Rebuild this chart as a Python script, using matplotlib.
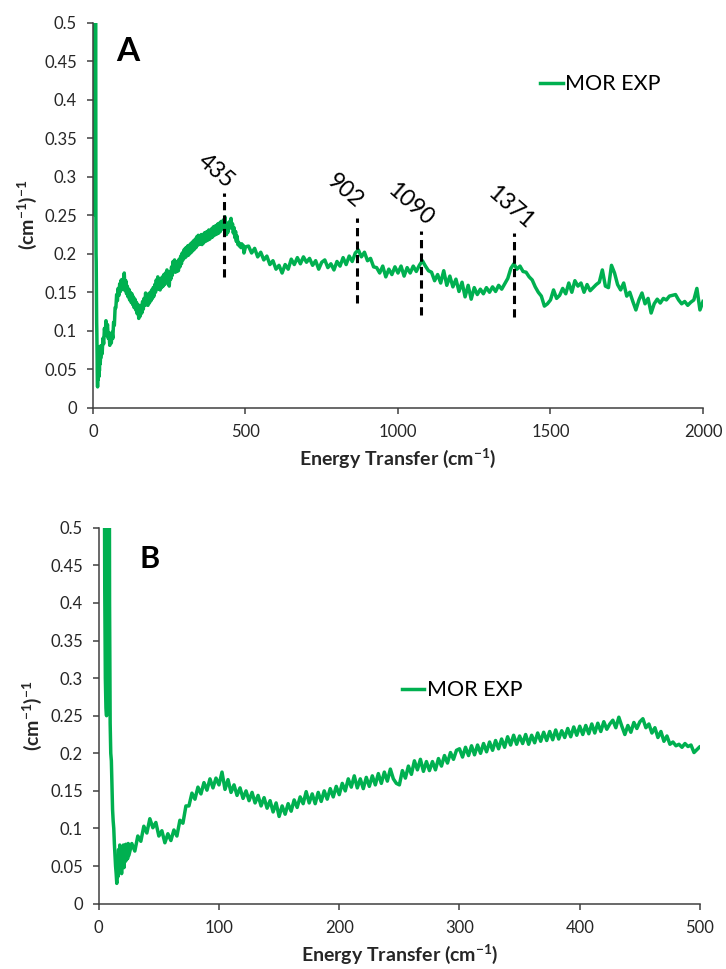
import numpy as np
import matplotlib
matplotlib.use("Agg")
import matplotlib.pyplot as plt

plt.rcParams['font.family'] = ['Lato', 'DejaVu Sans']
plt.rcParams['mathtext.fontset'] = 'custom'
plt.rcParams['mathtext.rm'] = 'Lato'
plt.rcParams['mathtext.bf'] = 'Lato:bold'
plt.rcParams['mathtext.default'] = 'regular'

# ---------------- data ----------------
series_name = "MOR EXP"

# elastic-line spike region (cm-1) and values
spike_energy = [3.0, 4.0, 4.5, 5.0, 5.5, 6.0, 6.5, 7.0, 7.5, 8.0, 8.5, 9.0, 9.5,
                10.0, 10.5, 11.0, 11.5, 12.0, 12.5, 13.0, 13.5, 14.0, 14.5, 15.0]
spike_values = [3.0, 1.5, 0.7, 0.42, 0.30, 0.26, 0.25, 0.28, 0.45, 0.75, 0.90, 0.40, 0.24,
                0.20, 0.19, 0.16, 0.125, 0.11, 0.10, 0.08, 0.065, 0.05, 0.04, 0.027]

# noisy band 15.5 - 24.5 cm-1 (0.5 step)
band_energy = np.arange(15.5, 24.51, 0.5)
band_values = [0.060, 0.036, 0.072, 0.043, 0.078, 0.048, 0.070, 0.040, 0.075, 0.052,
               0.078, 0.048, 0.072, 0.056, 0.079, 0.058, 0.076, 0.060, 0.080]

# 25 - 500 cm-1 (2.5 step)
mid_energy = np.arange(25.0, 500.01, 2.5)
mid_values = [
    0.064, 0.080, 0.070, 0.090, 0.083, 0.103, 0.094, 0.113, 0.101, 0.108,
    0.090, 0.097, 0.081, 0.093, 0.084, 0.098, 0.090, 0.111, 0.107, 0.130,
    0.130, 0.147, 0.139, 0.155, 0.146, 0.161, 0.151, 0.166, 0.154, 0.167,
    0.158, 0.175, 0.152, 0.165, 0.148, 0.158, 0.144, 0.154, 0.140, 0.150,
    0.137, 0.148, 0.134, 0.144, 0.130, 0.141, 0.127, 0.137, 0.122, 0.134,
    0.116, 0.130, 0.119, 0.133, 0.123, 0.138, 0.128, 0.142, 0.133, 0.149,
    0.134, 0.146, 0.133, 0.148, 0.136, 0.150, 0.139, 0.153, 0.142, 0.156,
    0.145, 0.160, 0.150, 0.166, 0.155, 0.170, 0.154, 0.166, 0.153, 0.168,
    0.156, 0.170, 0.158, 0.173, 0.160, 0.175, 0.163, 0.179, 0.166, 0.160,
    0.158, 0.177, 0.167, 0.183, 0.172, 0.190, 0.178, 0.192, 0.176, 0.189,
    0.177, 0.189, 0.178, 0.193, 0.183, 0.197, 0.187, 0.201, 0.192, 0.204,
    0.206, 0.195, 0.208, 0.197, 0.210, 0.198, 0.211, 0.200, 0.213, 0.202,
    0.215, 0.204, 0.217, 0.206, 0.219, 0.208, 0.222, 0.211, 0.224, 0.212,
    0.223, 0.213, 0.225, 0.212, 0.224, 0.214, 0.227, 0.216, 0.228, 0.217,
    0.229, 0.218, 0.231, 0.219, 0.230, 0.221, 0.233, 0.222, 0.235, 0.224,
    0.236, 0.225, 0.237, 0.226, 0.239, 0.227, 0.240, 0.229, 0.242, 0.232,
    0.239, 0.244, 0.234, 0.248, 0.236, 0.225, 0.237, 0.228, 0.241, 0.233,
    0.242, 0.246, 0.234, 0.239, 0.227, 0.234, 0.221, 0.229, 0.216, 0.223,
    0.212, 0.215, 0.210, 0.212, 0.208, 0.213, 0.209, 0.211, 0.201, 0.205,
    0.209,
]

# 510 - 2000 cm-1 (10 step)
high_energy = np.arange(510.0, 2000.01, 10.0)
high_values = [
    0.210, 0.201, 0.207, 0.196, 0.202, 0.192, 0.197, 0.186, 0.191, 0.180,
    0.185, 0.175, 0.186, 0.180, 0.193, 0.186, 0.195, 0.187, 0.196, 0.189,
    0.194, 0.185, 0.191, 0.180, 0.189, 0.192, 0.182, 0.187, 0.179, 0.190,
    0.184, 0.195, 0.186, 0.197, 0.190, 0.201, 0.205, 0.196, 0.202, 0.191,
    0.194, 0.183, 0.182, 0.175, 0.184, 0.170, 0.180, 0.173, 0.183, 0.175,
    0.184, 0.171, 0.182, 0.175, 0.184, 0.177, 0.185, 0.191, 0.184, 0.178,
    0.176, 0.165, 0.173, 0.162, 0.178, 0.159, 0.171, 0.157, 0.167, 0.151,
    0.163, 0.144, 0.159, 0.141, 0.156, 0.147, 0.154, 0.148, 0.156, 0.150,
    0.157, 0.151, 0.159, 0.154, 0.161, 0.168, 0.181, 0.187, 0.180, 0.184,
    0.177, 0.176, 0.170, 0.166, 0.157, 0.150, 0.145, 0.132, 0.135, 0.140,
    0.153, 0.142, 0.146, 0.155, 0.148, 0.162, 0.150, 0.165, 0.158, 0.162,
    0.150, 0.160, 0.152, 0.156, 0.160, 0.163, 0.179, 0.158, 0.156, 0.185,
    0.175, 0.160, 0.153, 0.162, 0.145, 0.150, 0.138, 0.127, 0.140, 0.149,
    0.135, 0.142, 0.123, 0.135, 0.141, 0.136, 0.142, 0.140, 0.145, 0.146,
    0.147, 0.140, 0.135, 0.138, 0.133, 0.137, 0.140, 0.155, 0.127, 0.138,
]

# peak annotations
peak_labels = ["435", "902", "1090", "1371"]
peak_line_x = [431, 865, 1077, 1381]
peak_line_ymin = [0.170, 0.136, 0.120, 0.118]
peak_line_ymax = [0.279, 0.247, 0.229, 0.227]
peak_text_xy = [(403, 0.308), (826, 0.281), (1039, 0.264), (1367, 0.260)]

yticks = [0, 0.05, 0.1, 0.15, 0.2, 0.25, 0.3, 0.35, 0.4, 0.45, 0.5]
ytick_labels = ["0", "0.05", "0.1", "0.15", "0.2", "0.25", "0.3", "0.35", "0.4", "0.45", "0.5"]
xticks_A = [0, 500, 1000, 1500, 2000]
xticks_B = [0, 100, 200, 300, 400, 500]

energy = np.concatenate([spike_energy, band_energy, mid_energy, high_energy])
intensity = np.concatenate([spike_values, band_values, mid_values, high_values])

# ---------------- figure ----------------
GREEN = '#00B050'
AX_COL = '#404040'
TXT_COL = '#262626'

fig = plt.figure(figsize=(7.26, 9.69), dpi=100)
axA = fig.add_axes([0.1281, 0.5793, 0.8402, 0.3970])
axB = fig.add_axes([0.1360, 0.0674, 0.8282, 0.3880])


def style(ax, xticks, xmax):
    ax.set_xlim(0, xmax)
    ax.set_ylim(0, 0.5)
    ax.set_yticks(yticks)
    ax.set_yticklabels(ytick_labels)
    ax.set_xticks(xticks)
    ax.set_xticklabels([str(t) for t in xticks])
    for s in ['top', 'right']:
        ax.spines[s].set_visible(False)
    for s in ['left', 'bottom']:
        ax.spines[s].set_color(AX_COL)
        ax.spines[s].set_linewidth(1.1)
    ax.tick_params(direction='out', length=4.5, width=1.1, color=AX_COL,
                   labelsize=12, labelcolor=TXT_COL, pad=7)
    ax.set_xlabel('Energy Transfer (cm$^{-1}$)', fontsize=14, fontweight='bold',
                  color=TXT_COL, labelpad=5)
    ax.set_ylabel('(cm$^{-1}$)$^{-1}$', fontsize=14, fontweight='bold',
                  color=TXT_COL, labelpad=4)


# Panel A
axA.plot(energy, intensity, color=GREEN, lw=2.5, label=series_name, solid_joinstyle='round')
style(axA, xticks_A, 2000)
for lab, lx, y0, y1, (tx, ty) in zip(peak_labels, peak_line_x, peak_line_ymin,
                                      peak_line_ymax, peak_text_xy):
    axA.plot([lx, lx], [y0, y1], color='black', lw=2.2, linestyle=(0, (2.7, 1.7)))
    axA.text(tx, ty, lab, rotation=-41, fontsize=16.5, color='black',
             ha='center', va='center', rotation_mode='anchor')
axA.text(0.057, 0.925, 'A', transform=axA.transAxes, fontsize=24, fontweight='bold',
         ha='center', va='center', color='black')
axA.legend(loc='center left', bbox_to_anchor=(0.733, 0.841), frameon=False,
           fontsize=15.5, handlelength=1.05, handletextpad=0.1,
           borderpad=0, borderaxespad=0)

# Panel B
axB.plot(energy, intensity, color=GREEN, lw=2.5, label=series_name, solid_joinstyle='round')
style(axB, xticks_B, 500)
axB.text(0.085, 0.917, 'B', transform=axB.transAxes, fontsize=22, fontweight='bold',
         ha='center', va='center', color='black')
axB.legend(loc='center left', bbox_to_anchor=(0.504, 0.568), frameon=False,
           fontsize=15.5, handlelength=1.05, handletextpad=0.1,
           borderpad=0, borderaxespad=0)

fig.savefig('out.png', dpi=100)
